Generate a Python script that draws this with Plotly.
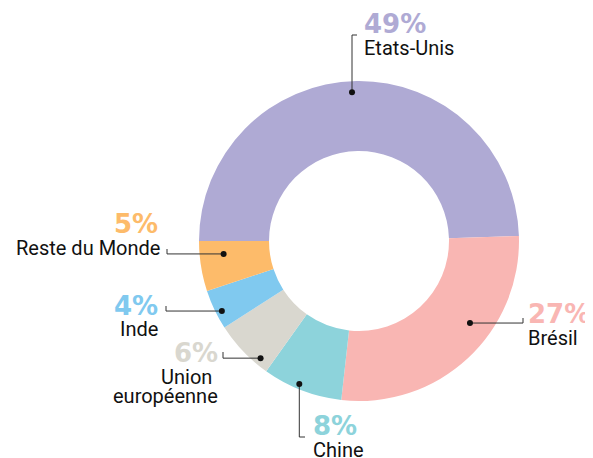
import math
import plotly.graph_objects as go

# ---- data ----
labels = ["Etats-Unis", "Brésil", "Chine", "Union européenne", "Inde", "Reste du Monde"]
values = [49, 27, 8, 6, 4, 5]
pct_text = ["49%", "27%", "8%", "6%", "4%", "5%"]
name_lines = [["Etats-Unis"], ["Brésil"], ["Chine"], ["Union", "européenne"], ["Inde"], ["Reste du Monde"]]
colors = ["#AFAAD4", "#F9B6B3", "#8DD3DB", "#D9D7CF", "#80C9EF", "#FDBB6A"]

# ---- layout constants (window pixels) ----
OFF = 8            # page body margin
W, H = 593 - OFF, 458 - OFF
CX, CY, R = 359, 241, 160
HOLE = 0.5625
ROT = 270  # first slice starts at 9 o'clock, clockwise

# leader dot placement within each slice: (fraction of slice span, radius px)
dot_pos = [(0.49, 149), (0.39, 138), (0.56, 155), (0.21, 153), (0.39, 154), (0.70, 136)]
# leader path: ("v"|"h", elbow coordinate, tick end coordinate)
leader = [("v", 35, 357), ("h", 523, 318), ("v", 437, 305), ("h", 223, 352), ("h", 166, 306), ("h", 167, 249)]
# label placement: (anchor, x, pct_y, [name y per line], [name x per line])
lab = [
    ("left", 362, 24, [48], [362]),
    ("left", 526, 314, [338], [526]),
    ("left", 311, 426, [450], [311]),
    ("right", 220, 353, [377, 396], [214, 220]),
    ("right", 160, 306, [329], [160]),
    ("right", 160, 224, [248], [162]),
]

def px(x):
    return (x - OFF) / W

def py(y):
    return 1 - (y - OFF) / H

fig = go.Figure()
fig.add_trace(go.Pie(
    labels=labels, values=values, hole=HOLE, sort=False,
    direction="clockwise", rotation=ROT,
    marker=dict(colors=colors, line=dict(width=0)),
    textinfo="none", hoverinfo="label+percent", showlegend=False,
    domain=dict(x=[px(CX - R), px(CX + R)], y=[py(CY + R), py(CY - R)]),
))

total = sum(values)
start = ROT
shapes = []
annotations = []
for i, v in enumerate(values):
    span = v / total * 360
    frac, rr = dot_pos[i]
    ang = math.radians(start + frac * span)
    dx = CX + rr * math.sin(ang)
    dy = CY - rr * math.cos(ang)
    start += span
    kind, elbow, tick = leader[i]
    if kind == "v":
        path = f"M {px(dx)},{py(dy)} L {px(dx)},{py(elbow)} L {px(tick)},{py(elbow)}"
    else:
        path = f"M {px(dx)},{py(dy)} L {px(elbow)},{py(dy)} L {px(elbow)},{py(tick)}"
    shapes.append(dict(type="path", xref="paper", yref="paper", path=path,
                       line=dict(color="#333333", width=1)))
    shapes.append(dict(type="circle", xref="paper", yref="paper",
                       x0=px(dx - 3), x1=px(dx + 3), y0=py(dy + 3), y1=py(dy - 3),
                       fillcolor="#111111", line=dict(width=0)))
    anchor, lx, pyy, nys, nxs = lab[i]
    annotations.append(dict(x=px(lx), y=py(pyy), xref="paper", yref="paper",
                            text=f"<b>{pct_text[i]}</b>", showarrow=False,
                            xanchor=anchor, yanchor="middle",
                            font=dict(family="DejaVu Sans", size=26, color=colors[i])))
    for t, ny, nx in zip(name_lines[i], nys, nxs):
        annotations.append(dict(x=px(nx), y=py(ny), xref="paper", yref="paper",
                                text=t, showarrow=False,
                                xanchor=anchor, yanchor="middle",
                                font=dict(family="Roboto", size=20, color="#111111")))

fig.update_layout(width=W, height=H, margin=dict(l=0, r=0, t=0, b=0),
                  paper_bgcolor="white", plot_bgcolor="white",
                  shapes=shapes, annotations=annotations)
fig.write_html("out.html")
